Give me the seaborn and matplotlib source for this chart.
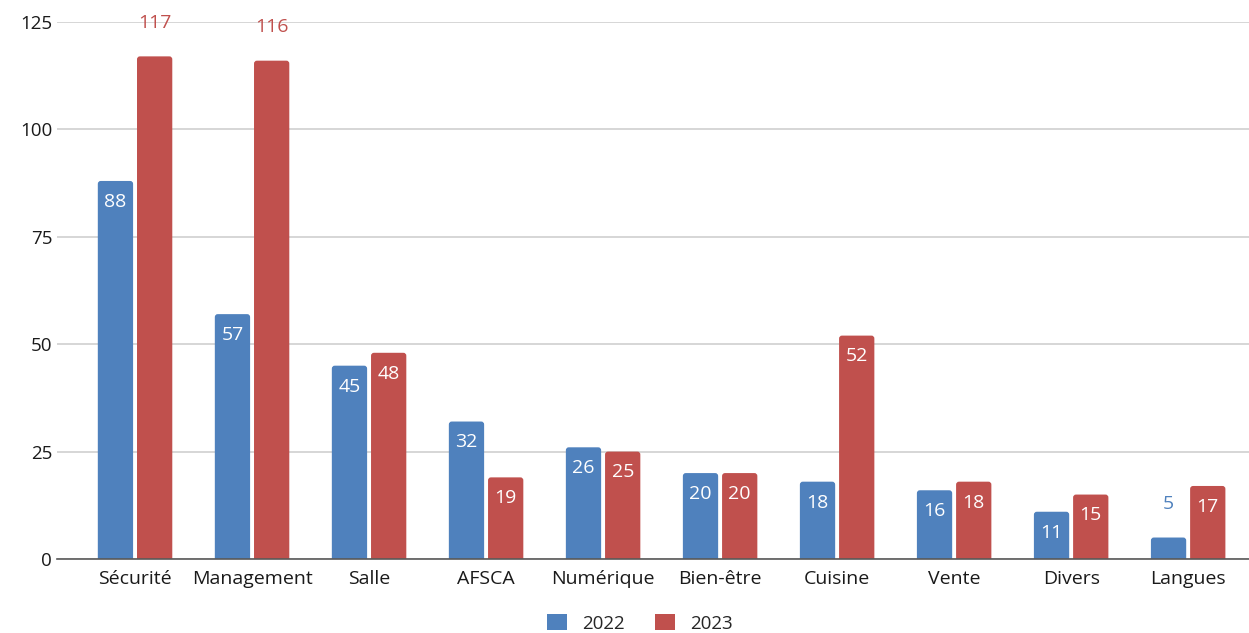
import pandas as pd
import seaborn as sns
import matplotlib.pyplot as plt
from matplotlib.patches import FancyBboxPatch

categories = ['Sécurité', 'Management', 'Salle', 'AFSCA', 'Numérique',
              'Bien-être', 'Cuisine', 'Vente', 'Divers', 'Langues']
vals_2022 = [88, 57, 45, 32, 26, 20, 18, 16, 11, 5]
vals_2023 = [117, 116, 48, 19, 25, 20, 52, 18, 15, 17]
years = ['2022', '2023']
colors = ['#4F81BD', '#C0504D']

df = pd.DataFrame({
    'cat': categories * 2,
    'year': [years[0]] * len(categories) + [years[1]] * len(categories),
    'val': vals_2022 + vals_2023,
})

sns.set_theme(style='white')
plt.rcParams['font.family'] = ['Open Sans', 'DejaVu Sans']

fig = plt.figure(figsize=(12.49, 6.33), dpi=100)
ax = fig.add_axes([57 / 1249, 74 / 633, 1 - 57 / 1249, (559 - 22) / 633])

sns.barplot(data=df, x='cat', y='val', hue='year', palette=colors,
            width=0.67, gap=0.1, saturation=1, ax=ax, legend=True,
            linewidth=0)

ax.set_ylim(0, 125)
ax.set_xlim(-0.667, 9.52)

# swap bars for rounded ones (bottom pushed below 0 so only top corners show)
px_x = 117.0
px_y = 537.0 / 125
for cont in ax.containers:
    for bar in cont:
        x, w, h = bar.get_x(), bar.get_width(), bar.get_height()
        rb = FancyBboxPatch((x, -2), w, h + 2,
                            boxstyle='round,pad=0,rounding_size=0.025',
                            mutation_aspect=px_x / px_y,
                            facecolor=bar.get_facecolor(), edgecolor='none',
                            zorder=bar.get_zorder())
        bar.set_visible(False)
        ax.add_patch(rb)

ax.set_yticks([0, 25, 50, 75, 100, 125])
ax.yaxis.grid(True, color='#D0D0D0', lw=1.2)
ax.set_axisbelow(True)
for s in ['top', 'right', 'left']:
    ax.spines[s].set_visible(False)
ax.spines['bottom'].set_color('#595959')
ax.spines['bottom'].set_linewidth(1.2)
ax.spines['bottom'].set_zorder(5)
ax.tick_params(axis='both', length=0, labelsize=13.5, colors='#1a1a1a')
ax.tick_params(axis='x', pad=8, labelsize=14)
ax.set_xlabel('')
ax.set_ylabel('')

# value labels
for cont, col in zip(ax.containers, colors):
    for bar in cont:
        v = bar.get_height()
        x = bar.get_x() + bar.get_width() / 2
        if v > 110 or v < 8:
            ax.annotate(f'{v:.0f}', (x, v), xytext=(0, 24), textcoords='offset points',
                        ha='center', va='center', fontsize=14, color=col)
        else:
            ax.annotate(f'{v:.0f}', (x, v), xytext=(0, -15), textcoords='offset points',
                        ha='center', va='center', fontsize=14, color='white')

handles, labels = ax.get_legend_handles_labels()
ax.legend(handles, labels, loc='center', bbox_to_anchor=(0.489, -0.12), ncol=2,
          frameon=False, fontsize=13.5, handlelength=1.07, handleheight=0.9,
          columnspacing=1.6, handletextpad=0.8)

fig.savefig('out.png', dpi=100)
